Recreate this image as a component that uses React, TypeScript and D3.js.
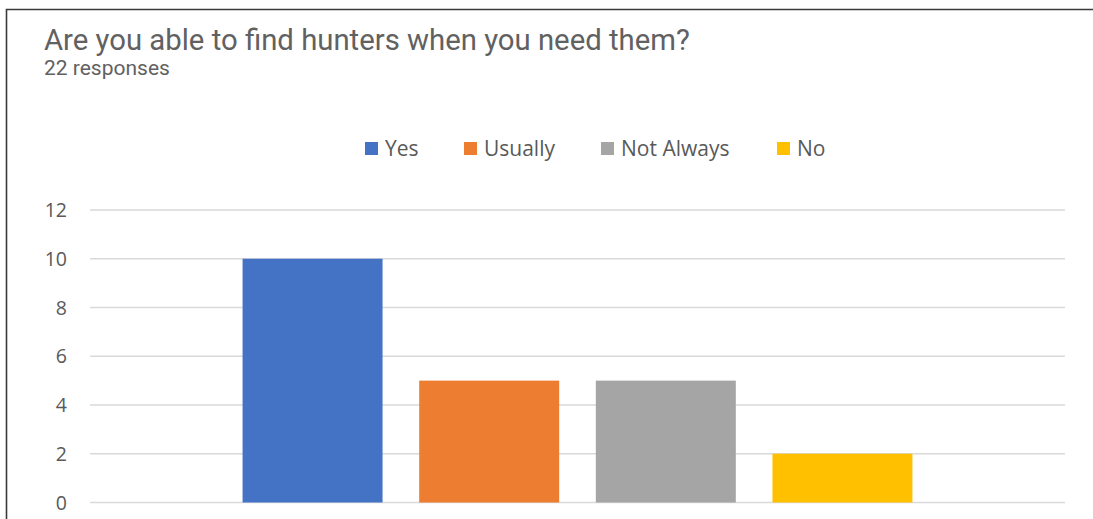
import React from "react";
import * as d3 from "d3";

const categories = ["Yes", "Usually", "Not Always", "No"];
const values = [10, 5, 5, 2];
const colors = ["#4472C4", "#ED7D31", "#A5A5A5", "#FFC000"];
const yTicks = [0, 2, 4, 6, 8, 10, 12];
const title = "Are you able to find hunters when you need them?";
const subtitle = "22 responses";

const W = 1093;
const H = 519;

export default function App() {
  const plotLeft = 90;
  const plotRight = 1065;
  const y = d3.scaleLinear().domain([0, 12]).range([502.5, 210]);
  const x0 = d3.scaleBand().domain(["all"]).range([plotLeft, plotRight]).paddingOuter(0.19).paddingInner(0);
  const x1 = d3
    .scaleBand()
    .domain(categories)
    .range([x0("all") as number, (x0("all") as number) + x0.bandwidth()])
    .paddingInner(0.2075)
    .paddingOuter(0.10375);

  const legendX = [365, 464, 601, 777];
  const legendFont = "'Open Sans', 'Segoe UI', sans-serif";

  return (
    <svg
      width={W}
      height={H}
      style={{ position: "absolute", left: 0, top: 0, background: "#fff" }}
    >
      <rect x={0} y={0} width={W} height={H} fill="#fff" />
      <path d={`M6.5,${H + 5} V9.5 H${W + 5}`} fill="none" stroke="#3a3a3a" strokeWidth={1.6} />
      <text x={44} y={50} fontFamily="Roboto, sans-serif" fontSize={29.3} fill="#616161">
        {title}
      </text>
      <text x={44} y={75} fontFamily="Roboto, sans-serif" fontSize={21} fill="#616161">
        {subtitle}
      </text>
      {categories.map((c, i) => (
        <g key={c}>
          <rect x={legendX[i]} y={142} width={13} height={13} fill={colors[i]} />
          <text x={legendX[i] + 20} y={155.5} fontFamily={legendFont} fontSize={21} fill="#595959">
            {c}
          </text>
        </g>
      ))}
      {yTicks.map((t) => (
        <g key={t}>
          <line x1={plotLeft} x2={plotRight} y1={y(t)} y2={y(t)} stroke="#D9D9D9" strokeWidth={1.5} />
          <text
            x={67}
            y={y(t)}
            dy="0.36em"
            textAnchor="end"
            fontFamily={legendFont}
            fontSize={19.5}
            fill="#595959"
          >
            {t}
          </text>
        </g>
      ))}
      {categories.map((c, i) => (
        <rect
          key={c}
          x={x1(c)}
          y={y(values[i])}
          width={x1.bandwidth()}
          height={y(0) - y(values[i])}
          fill={colors[i]}
        />
      ))}
    </svg>
  );
}
